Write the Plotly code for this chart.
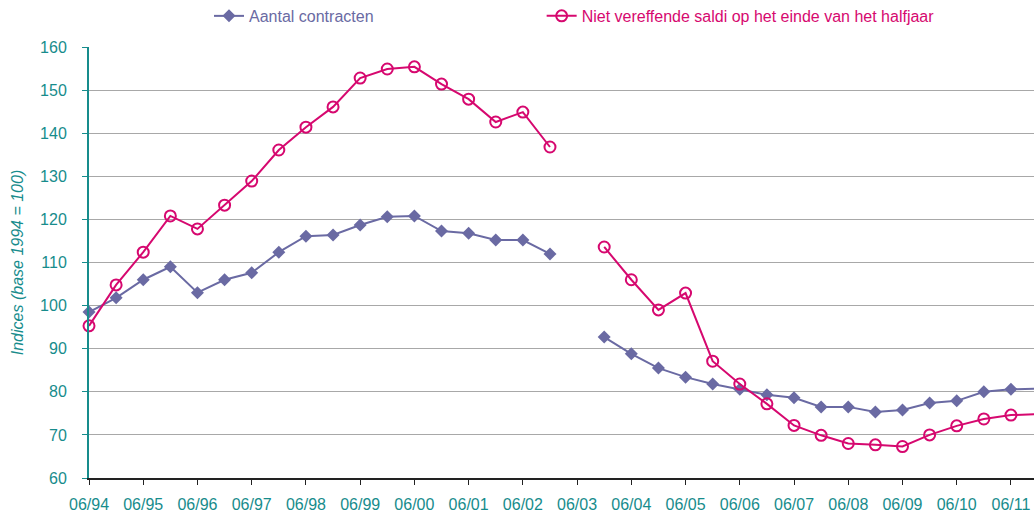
import plotly.graph_objects as go

# half-year periods, 06/94 .. 12/11 (06/03 missing)
periods = [
    "06/94", "12/94", "06/95", "12/95", "06/96", "12/96", "06/97", "12/97",
    "06/98", "12/98", "06/99", "12/99", "06/00", "12/00", "06/01", "12/01",
    "06/02", "12/02", "06/03", "12/03", "06/04", "12/04", "06/05", "12/05",
    "06/06", "12/06", "06/07", "12/07", "06/08", "12/08", "06/09", "12/09",
    "06/10", "12/10", "06/11", "12/11",
]

aantal_contracten = [
    98.5, 101.8, 106.0, 109.0, 103.0, 106.0, 107.6, 112.4,
    116.1, 116.4, 118.7, 120.6, 120.8, 117.3, 116.8, 115.2,
    115.2, 112.0, None, 92.7, 88.8, 85.5, 83.4, 81.8,
    80.6, 79.3, 78.6, 76.5, 76.5, 75.3, 75.8, 77.4,
    77.9, 80.0, 80.6, 80.7,
]

niet_vereffende_saldi = [
    95.3, 104.8, 112.4, 120.8, 117.8, 123.3, 128.9, 136.1,
    141.4, 146.1, 152.8, 154.9, 155.4, 151.4, 147.9, 142.6,
    144.9, 136.8, None, 113.6, 106.0, 99.0, 102.9, 87.1,
    81.8, 77.2, 72.2, 69.9, 68.0, 67.7, 67.3, 70.0,
    72.1, 73.7, 74.6, 74.8,
]

tick_labels = periods[0::2]

PURPLE = "#6a6aa3"
PINK = "#d6086f"
TEAL = "#178c8c"
FONT = "Liberation Sans, Arial, sans-serif"

xs = list(range(len(periods)))

fig = go.Figure()

fig.add_trace(
    go.Scatter(
        x=xs,
        y=aantal_contracten,
        mode="lines+markers",
        name="Aantal contracten",
        legend="legend",
        line=dict(color=PURPLE, width=2),
        marker=dict(symbol="diamond", size=10, color=PURPLE),
        cliponaxis=False,
        connectgaps=False,
    )
)

fig.add_trace(
    go.Scatter(
        x=xs,
        y=niet_vereffende_saldi,
        mode="lines+markers",
        name="Niet vereffende saldi op het einde van het halfjaar",
        legend="legend2",
        line=dict(color=PINK, width=2),
        marker=dict(symbol="circle-open", size=11, color=PINK, line=dict(width=2, color=PINK)),
        cliponaxis=False,
        connectgaps=False,
    )
)

legend_common = dict(
    orientation="h",
    xanchor="left",
    yanchor="middle",
    y=1.072,
    bgcolor="rgba(0,0,0,0)",
)

fig.update_layout(
    width=1034,
    height=511,
    paper_bgcolor="white",
    plot_bgcolor="white",
    margin=dict(l=89, r=0, t=47, b=33, autoexpand=False),
    font=dict(family=FONT, size=16, color=TEAL),
    showlegend=True,
    legend=dict(x=0.127, font=dict(size=16, color=PURPLE), **legend_common),
    legend2=dict(x=0.479, font=dict(size=16, color=PINK), **legend_common),
    xaxis=dict(
        range=[0, 34.85],
        tickmode="array",
        tickvals=xs[0::2],
        ticktext=tick_labels,
        ticks="outside",
        ticklen=5,
        tickcolor="#222222",
        ticklabelstandoff=6,
        showline=True,
        linecolor="#222222",
        linewidth=2,
        showgrid=False,
        zeroline=False,
        automargin=False,
        tickfont=dict(size=16, color=TEAL),
    ),
    yaxis=dict(
        range=[60, 160],
        tickvals=list(range(60, 161, 10)),
        ticks="outside",
        ticklen=5,
        tickcolor=TEAL,
        ticklabelstandoff=12,
        showline=True,
        linecolor=TEAL,
        linewidth=2,
        showgrid=True,
        gridcolor="#a8a8a8",
        gridwidth=1,
        zeroline=False,
        automargin=False,
        tickfont=dict(size=16, color=TEAL),
        title=dict(
            text="<i>Indices (base 1994 = 100)</i>",
            font=dict(size=16, color=TEAL),
            standoff=12,
        ),
    ),
)

# drop the default page margin so the figure fills the window exactly
fig.write_html(
    "out.html",
    config={"displayModeBar": False},
    post_script="document.body.style.margin='0';document.body.style.overflow='hidden';",
)
